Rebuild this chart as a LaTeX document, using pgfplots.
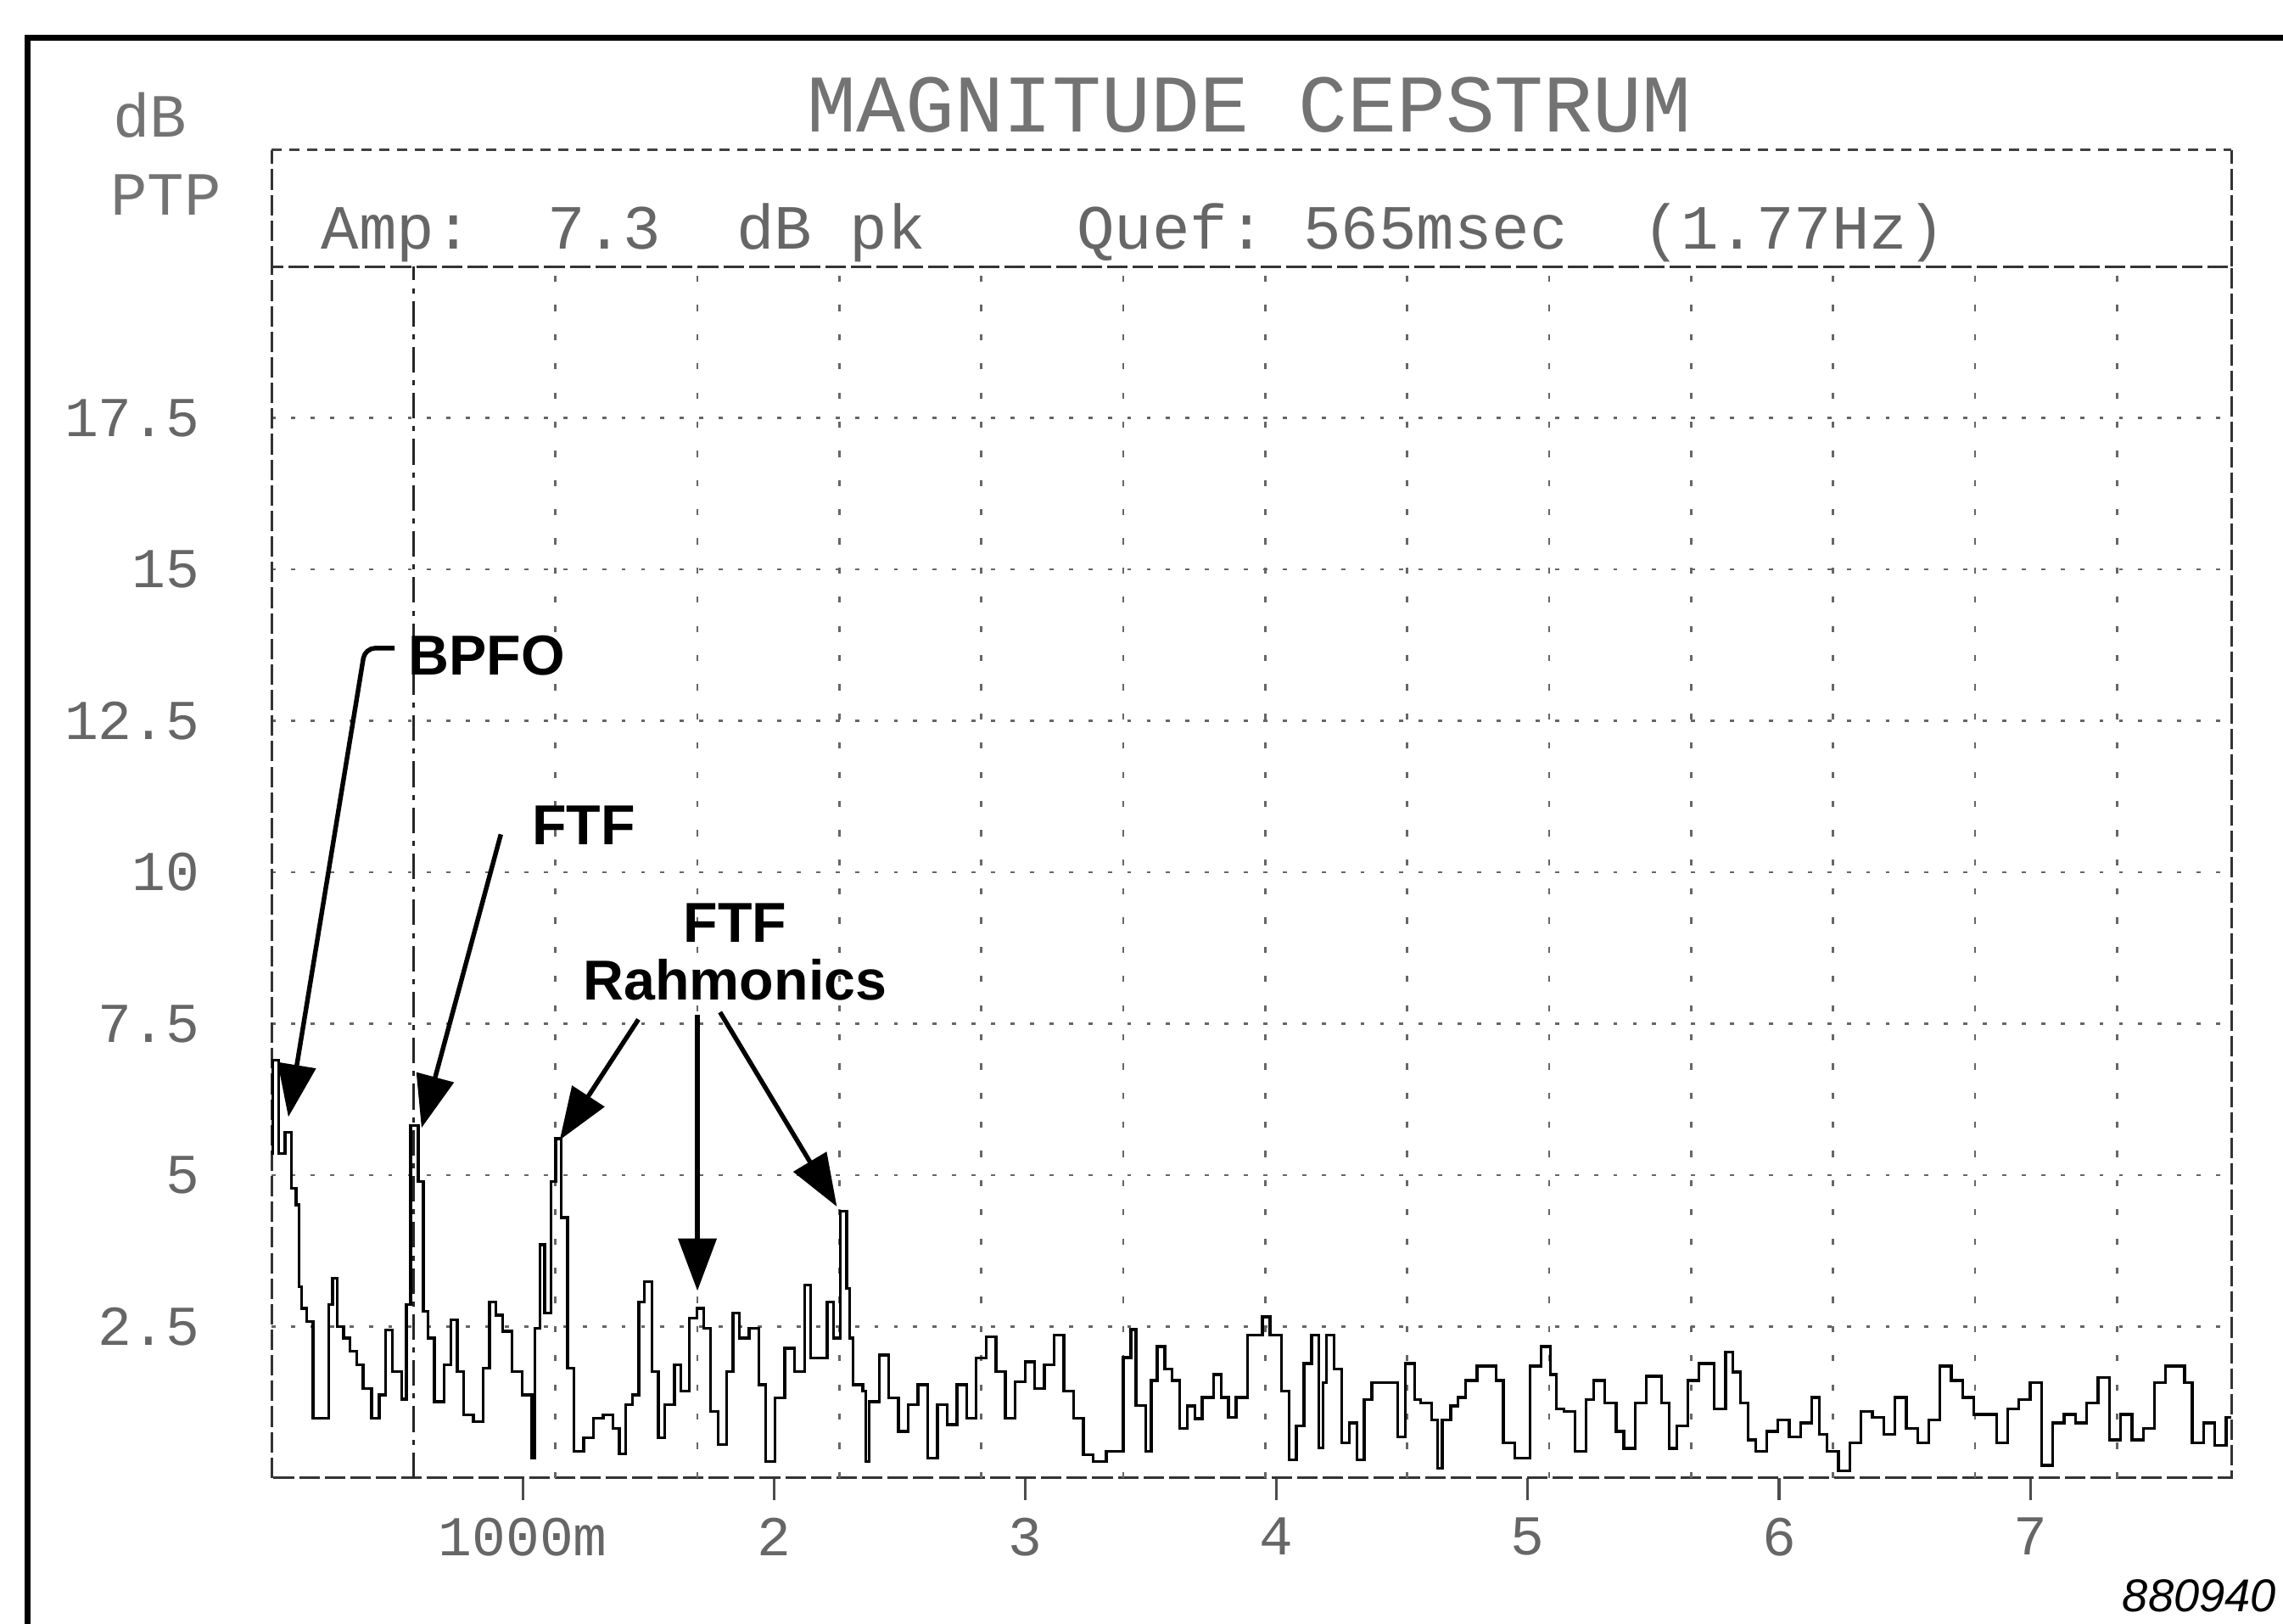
\documentclass[border=0pt]{standalone}
\usepackage{pgfplots}
\pgfplotsset{compat=1.18}
\usepackage{pgfplotstable}
\usepackage{fontspec}
\setmainfont{Liberation Sans}
\newfontfamily\plotfont{Liberation Mono}
\usetikzlibrary{arrows.meta}

% cepstrum trace, quefrency (s) vs dB (step values)
\pgfplotstableread{
x y
0.000 5.36
0.004 6.90
0.028 5.36
0.054 5.71
0.080 4.78
0.098 4.51
0.110 3.16
0.119 2.80
0.139 2.58
0.165 0.99
0.227 2.86
0.243 3.30
0.261 2.50
0.287 2.31
0.313 2.09
0.338 1.87
0.364 1.48
0.398 0.99
0.429 1.37
0.455 2.44
0.480 1.76
0.519 1.30
0.537 2.86
0.553 5.82
0.584 4.89
0.604 2.75
0.622 2.31
0.648 1.26
0.687 1.87
0.713 2.61
0.739 1.76
0.765 1.04
0.803 0.93
0.842 1.81
0.868 2.91
0.894 2.69
0.920 2.42
0.958 1.76
0.997 1.37
1.036 0.33
1.049 2.47
1.069 3.85
1.087 2.72
1.113 4.89
1.131 5.60
1.152 4.30
1.178 1.81
1.204 0.44
1.242 0.66
1.281 0.99
1.320 1.04
1.359 0.82
1.384 0.40
1.410 1.21
1.436 1.37
1.462 2.91
1.483 3.24
1.514 1.76
1.540 0.66
1.565 1.21
1.604 1.87
1.630 1.43
1.663 2.64
1.694 2.80
1.720 2.47
1.746 1.10
1.777 0.55
1.811 1.76
1.837 2.72
1.862 2.31
1.901 2.47
1.940 1.54
1.966 0.27
2.004 1.32
2.043 2.14
2.082 1.76
2.121 3.19
2.146 1.98
2.211 2.91
2.237 2.31
2.263 4.40
2.289 3.13
2.300 2.31
2.314 1.54
2.353 1.43
2.365 0.27
2.379 1.26
2.418 2.03
2.456 1.32
2.495 0.77
2.534 1.21
2.573 1.54
2.611 0.33
2.650 1.21
2.689 0.88
2.728 1.54
2.766 0.99
2.805 1.98
2.844 2.33
2.883 1.76
2.921 0.99
2.960 1.59
2.999 1.92
3.038 1.48
3.076 1.87
3.115 2.36
3.154 1.43
3.193 0.99
3.231 0.38
3.270 0.27
3.322 0.44
3.390 1.99
3.420 2.45
3.441 1.20
3.480 0.44
3.501 1.61
3.525 2.17
3.555 1.80
3.585 1.61
3.615 0.82
3.645 1.19
3.675 0.98
3.704 1.33
3.749 1.71
3.779 1.33
3.809 1.00
3.839 1.33
3.884 2.36
3.944 2.66
3.974 2.36
4.019 1.43
4.049 0.30
4.079 0.86
4.109 1.89
4.139 2.36
4.169 0.50
4.185 1.57
4.199 2.36
4.229 1.80
4.259 0.58
4.289 0.91
4.319 0.30
4.349 1.29
4.379 1.57
4.483 0.68
4.513 1.89
4.549 1.29
4.573 1.24
4.618 0.96
4.640 0.16
4.660 0.96
4.693 1.19
4.723 1.33
4.753 1.61
4.798 1.85
4.873 1.61
4.903 0.58
4.948 0.33
5.008 1.85
5.053 2.17
5.089 1.71
5.113 1.14
5.143 1.10
5.187 0.44
5.232 1.29
5.262 1.61
5.307 1.24
5.352 0.77
5.382 0.49
5.427 1.24
5.472 1.68
5.532 1.24
5.562 0.49
5.592 0.86
5.637 1.61
5.682 1.89
5.742 1.14
5.787 2.08
5.817 1.75
5.847 1.24
5.877 0.63
5.907 0.44
5.951 0.77
5.996 0.96
6.041 0.68
6.086 0.91
6.131 1.33
6.161 0.72
6.191 0.44
6.236 0.12
6.281 0.58
6.326 1.10
6.371 1.00
6.416 0.72
6.461 1.33
6.506 0.82
6.551 0.58
6.596 0.96
6.641 1.85
6.685 1.61
6.730 1.33
6.775 1.05
6.865 0.58
6.910 1.14
6.955 1.29
7.000 1.57
7.045 0.21
7.090 0.91
7.135 1.05
7.180 0.91
7.225 1.24
7.270 1.66
7.315 0.63
7.360 1.05
7.405 0.63
7.450 0.82
7.494 1.57
7.539 1.85
7.614 1.57
7.644 0.58
7.689 0.91
7.734 0.54
7.779 1.00
7.800 1.00
}\cepstrum

\begin{document}
\begin{tikzpicture}
\path[use as bounding box] (0,0) rectangle (15.68,11.15);

% outer frame of the sheet
\draw[line width=1.1pt] (0.19,0) -- (0.19,10.89) -- (15.68,10.89);

% analyzer text
\node[font=\plotfont\fontsize{16}{18}\selectfont, text=black!55] at (8.58,10.43) {MAGNITUDE CEPSTRUM};
\node[font=\plotfont\fontsize{12}{14}\selectfont, text=black!55] at (1.03,10.36) {dB};
\node[font=\plotfont\fontsize{12}{14}\selectfont, text=black!55] at (1.14,9.81) {PTP};
\node[anchor=west, inner sep=0, font=\plotfont\fontsize{12.3}{14}\selectfont, text=black!60]
  at (2.20,9.55) {Amp:~~7.3~~dB~pk~~~~Quef:~565msec~~(1.77Hz)};

\begin{axis}[
  at={(1.865cm,1.0cm)}, anchor=south west,
  scale only axis, width=13.46cm, height=8.32cm,
  xmin=0, xmax=7.8, ymin=0, ymax=20,
  clip=false,
  axis line style={line width=0.5pt, black!80, dash pattern=on 4pt off 1pt},
  xtick={1,2,3,4,5,6,7},
  xticklabels={1000m,2,3,4,5,6,7},
  xtick pos=bottom, tick align=outside, major tick length=0.15cm,
  xtick style={line width=0.5pt, black!70},
  ytick={2.5,5,7.5,10,12.5,15,17.5},
  yticklabels={2.5,5,7.5,10,12.5,15,17.5},
  ytick style={draw=none},
  ymajorgrids,
  grid style={black!60, line width=0.45pt, dash pattern=on 0.8pt off 3pt},
  % harmonic cursor lines at multiples of 565 ms
  extra x ticks={1.13,1.695,2.26,2.825,3.39,3.955,4.52,5.085,5.65,6.215,6.78,7.345},
  extra x tick labels={},
  extra x tick style={xmajorgrids=true, major tick length=0pt,
    grid style={black!60, line width=0.45pt, dash pattern=on 1.2pt off 4.5pt}},
  ticklabel style={font=\plotfont\fontsize{11}{12}\selectfont, text=black!60},
  yticklabel style={xshift=-0.22cm},
]

% header box above the plot area
\draw[line width=0.5pt, black!80, dash pattern=on 4pt off 1pt]
  (axis cs:0,20) -- (axis cs:0,21.92) (axis cs:7.8,20) -- (axis cs:7.8,21.92);
\draw[line width=0.5pt, black!75, dash pattern=on 2pt off 1.5pt]
  (axis cs:0,21.92) -- (axis cs:7.8,21.92);

% main cursor at 565 ms
\draw[line width=0.6pt, black!85, dash pattern=on 5pt off 1.5pt on 1pt off 1.5pt]
  (axis cs:0.565,0) -- (axis cs:0.565,20);

\addplot[const plot, black, line width=0.55pt] table[x=x, y=y] {\cepstrum};

% annotations
\begin{scope}[line width=0.9pt, font=\bfseries\fontsize{11}{13}\selectfont]
\draw[-{Triangle[length=0.36cm,width=0.26cm]}, rounded corners=2pt]
  (axis cs:0.490,13.70) -- (axis cs:0.372,13.70) -- (axis cs:0.067,5.96);
\node[anchor=west, inner sep=0] at (axis cs:0.536,13.58) {BPFO};

\draw[-{Triangle[length=0.36cm,width=0.26cm]}] (axis cs:0.9125,10.625) -- (axis cs:0.597,5.78);
\node[anchor=west, inner sep=0] at (axis cs:1.028,10.77) {FTF};

\node[anchor=base, inner sep=0] at (axis cs:1.845,8.846) {FTF};
\node[anchor=base, inner sep=0] at (axis cs:1.845,7.885) {Rahmonics};
\draw[-{Triangle[length=0.36cm,width=0.26cm]}] (axis cs:1.46,7.57) -- (axis cs:1.147,5.58);
\draw[-{Triangle[length=0.36cm,width=0.26cm]}] (axis cs:1.695,7.64) -- (axis cs:1.695,3.09);
\draw[-{Triangle[length=0.36cm,width=0.26cm]}] (axis cs:1.785,7.69) -- (axis cs:2.25,4.48);
\end{scope}
\end{axis}

\node[anchor=base east, inner sep=0, font=\itshape\fontsize{9}{10}\selectfont] at (15.64,0.08) {880940};
\end{tikzpicture}
\end{document}
